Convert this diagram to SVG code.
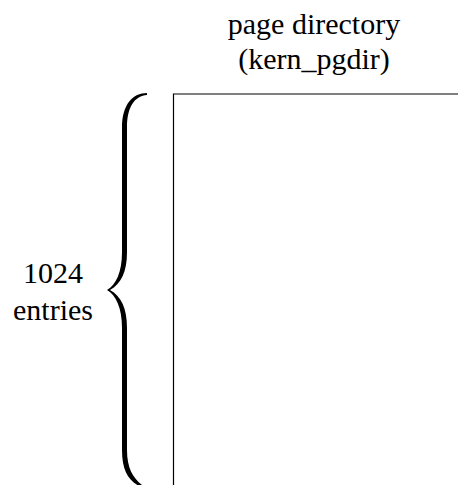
<svg xmlns="http://www.w3.org/2000/svg" width="458" height="485" viewBox="0 0 458 485">
<rect width="458" height="485" fill="#fff"/>
<g id="pgdir">
<path d="M173.5,490 L173.5,94 L462,94" fill="none" stroke="#000" stroke-width="1.2"/>
<text x="314" y="34" text-anchor="middle" style="font-family:'Times New Roman','Liberation Serif',serif;font-size:30px">page directory</text>
<text x="314" y="69" text-anchor="middle" style="font-family:'Times New Roman','Liberation Serif',serif;font-size:30px">(kern_pgdir)</text>
</g>
<g id="brace">
<path d="M147,93 C133,93 122,104 122,128 L122,252 C122,272 116,285 107,290 C116,295 122,308 122,328 L122,450 C122,470 128,480 139,486 L142,485 C133,478 127,468 127,450 L127,328 C127,308 121,296 110,290 C121,284 127,272 127,252 L127,128 C127,106 135,96 147,95 Z" fill="#000"/>
<text x="53" y="283" text-anchor="middle" style="font-family:'Times New Roman','Liberation Serif',serif;font-size:30px">1024</text>
<text x="53" y="320" text-anchor="middle" style="font-family:'Times New Roman','Liberation Serif',serif;font-size:30px">entries</text>
</g>
</svg>
